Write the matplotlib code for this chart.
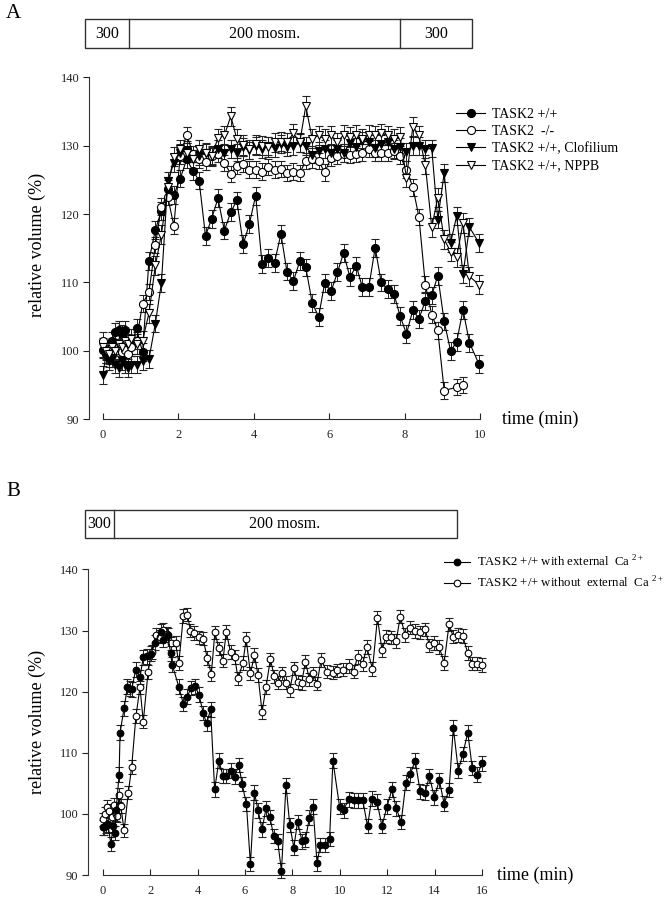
import matplotlib
matplotlib.use("Agg")
import matplotlib.pyplot as plt
from matplotlib.lines import Line2D
from matplotlib.patches import Rectangle

plt.rcParams['font.family'] = ['Liberation Serif', 'DejaVu Serif']
plt.rcParams['mathtext.fontset'] = 'custom'
plt.rcParams['mathtext.rm'] = 'Liberation Serif'

# ---------------- Panel A data ----------------
tA = [0.00, 0.08, 0.17, 0.25, 0.33, 0.42, 0.50, 0.58, 0.67, 0.75, 0.89, 1.05, 1.22, 1.39, 1.55,
      1.72, 1.88, 2.05, 2.22, 2.39, 2.55, 2.72, 2.88, 3.05, 3.22, 3.39, 3.55, 3.72, 3.88, 4.05,
      4.22, 4.38, 4.55, 4.72, 4.88, 5.05, 5.22, 5.38, 5.55, 5.72, 5.88, 6.05, 6.22, 6.38, 6.55,
      6.72, 6.88, 7.05, 7.22, 7.38, 7.55, 7.72, 7.88, 8.05, 8.22, 8.38, 8.55, 8.72, 8.88, 9.05,
      9.22, 9.38, 9.55, 9.72, 9.97]
wt = [100.2, 99.5, 99.0, 101.5, 102.8, 103.0, 102.5, 103.0, 101.2, 100.8, 103.3, 99.8, 113.2, 117.7, 120.5,
      123.7, 122.8, 125.2, 128.0, 126.3, 124.9, 116.8, 119.3, 122.3, 117.6, 120.3, 122.0, 115.6, 118.5, 122.7,
      112.7, 113.6, 112.9, 117.1, 111.6, 110.2, 113.1, 112.2, 107.0, 105.0, 109.9, 108.7, 111.5, 114.3, 110.8,
      112.4, 109.3, 109.3, 115.1, 110.0, 109.0, 108.3, 105.1, 102.5, 106.0, 104.7, 107.3, 108.1, 111.0, 104.3,
      100.0, 101.3, 106.0, 101.2, 98.1]
tA_ko = [0.00, 0.08, 0.17, 0.25, 0.33, 0.42, 0.50, 0.58, 0.67, 0.75, 0.89, 1.05, 1.22, 1.39, 1.55,
         1.72, 1.88, 2.05, 2.22, 2.39, 2.55, 2.72, 2.88, 3.05, 3.22, 3.39, 3.55, 3.72, 3.88, 4.05,
         4.22, 4.38, 4.55, 4.72, 4.88, 5.05, 5.22, 5.38, 5.55, 5.72, 5.88, 6.05, 6.22, 6.38, 6.55,
         6.72, 6.88, 7.05, 7.22, 7.38, 7.55, 7.72, 7.88, 8.05, 8.22, 8.38, 8.55, 8.72, 8.88, 9.05,
         9.38, 9.55]
ko = [101.5, 100.0, 99.5, 100.5, 100.0, 100.5, 99.8, 100.2, 99.5, 100.5, 101.5, 106.9, 108.6, 115.5, 121.1,
      122.5, 118.3, 128.5, 131.6, 128.8, 128.0, 127.6, 128.5, 128.8, 127.5, 125.9, 127.0, 127.3, 126.5, 126.5,
      126.2, 126.9, 126.5, 126.6, 126.0, 126.2, 126.0, 127.8, 128.0, 127.8, 126.1, 128.2, 128.5, 128.8, 128.6,
      128.8, 129.0, 129.5, 129.0, 128.9, 129.0, 129.2, 128.5, 126.5, 123.9, 119.6, 109.7, 105.3, 103.0, 94.2,
      94.7, 95.0]
clof = [96.5, 99.5, 98.5, 99.0, 98.0, 97.5, 98.5, 98.0, 97.5, 98.0, 98.0, 98.5, 98.8, 104.0, 109.9,
        124.8, 127.5, 129.0, 129.4, 128.0, 128.5, 129.0, 128.5, 129.5, 129.0, 129.5, 129.0, 129.8, 129.3, 130.0,
        129.5, 130.0, 129.7, 130.2, 129.8, 130.0, 130.4, 129.9, 128.7, 129.2, 129.5, 129.0, 129.5, 128.9, 130.4,
        129.8, 130.7, 130.5, 129.6, 130.3, 130.5, 129.5, 129.8, 129.1, 129.9, 129.9, 129.5, 129.6, 119.2, 126.0,
        115.8, 119.7, 111.2, 118.1, 115.8]
nppb = [100.5, 100.0, 99.5, 100.5, 100.0, 101.0, 100.5, 101.5, 101.0, 101.8, 101.0, 101.5, 105.5, 112.5, 117.0,
        124.0, 128.4, 129.5, 129.0, 128.0, 129.5, 129.0, 128.5, 131.1, 131.5, 134.3, 131.0, 130.1, 129.5, 130.2,
        130.0, 129.8, 130.5, 130.6, 130.5, 131.8, 130.5, 135.8, 131.0, 131.5, 131.0, 131.5, 130.5, 131.6, 131.3,
        131.6, 131.0, 131.6, 131.5, 131.8, 131.5, 131.0, 131.3, 125.3, 132.8, 131.5, 127.2, 118.1, 122.4, 116.3,
        114.5, 113.7, 118.7, 110.9, 109.7]
err_wt, err_ko, err_clof, err_nppb = 1.3, 1.2, 1.3, 1.4
labels_A = ["TASK2 +/+", "TASK2  -/-", "TASK2 +/+, Clofilium", "TASK2 +/+, NPPB"]

# ---------------- Panel B data ----------------
tB_ca = [0.00, 0.06, 0.12, 0.22, 0.34, 0.45, 0.52, 0.56, 0.69, 0.73, 0.90, 1.04, 1.13, 1.22, 1.39,
         1.57, 1.71, 1.86, 2.02, 2.22, 2.44, 2.55, 2.75, 2.86, 2.93, 3.21, 3.40, 3.56, 3.73, 3.89,
         4.06, 4.24, 4.38, 4.55, 4.72, 4.90, 5.07, 5.22, 5.39, 5.56, 5.74, 5.88, 6.06, 6.23, 6.40,
         6.55, 6.72, 6.89, 7.05, 7.21, 7.38, 7.54, 7.73, 7.89, 8.06, 8.22, 8.41, 8.55, 8.72, 8.87,
         9.04, 9.18, 9.39, 9.57, 9.71, 9.99, 10.16, 10.37, 10.58, 10.75, 10.97, 11.17, 11.35, 11.57, 11.78,
         11.99, 12.20, 12.38, 12.59, 12.79, 12.97, 13.18, 13.39, 13.60, 13.78, 13.99, 14.20, 14.40, 14.61, 14.79,
         15.00, 15.19, 15.40, 15.59, 15.80, 16.00]
with_ca = [97.8, 97.8, 98.1, 98.3, 95.1, 98.1, 96.9, 100.6, 106.4, 113.3, 117.3, 120.8, 120.5, 120.4, 123.6,
           122.4, 125.6, 125.8, 126.2, 128.0, 129.8, 128.5, 129.3, 126.3, 124.4, 120.8, 118.0, 119.2, 120.6, 120.9,
           119.5, 116.5, 114.8, 117.1, 104.0, 108.7, 106.2, 106.2, 107.1, 106.1, 108.0, 104.9, 101.6, 91.8, 103.5,
           100.6, 97.5, 100.9, 99.5, 96.4, 95.5, 90.7, 104.7, 98.2, 94.5, 98.7, 95.5, 95.8, 99.4, 101.2,
           91.9, 94.9, 94.9, 95.9, 108.7, 101.2, 100.6, 102.4, 102.2, 102.2, 102.2, 98.0, 102.5, 102.0, 98.0,
           101.2, 104.0, 100.9, 98.7, 105.1, 106.5, 108.7, 103.7, 103.5, 106.2, 102.7, 105.5, 101.7, 103.9, 114.1,
           107.1, 109.8, 113.3, 107.5, 106.4, 108.3]
tB_no = [0.00, 0.10, 0.17, 0.28, 0.37, 0.48, 0.55, 0.62, 0.69, 0.76, 0.90, 1.08, 1.22, 1.40, 1.57,
         1.71, 1.91, 2.06, 2.23, 2.40, 2.55, 2.72, 2.89, 3.07, 3.21, 3.40, 3.57, 3.70, 3.87, 4.06,
         4.23, 4.41, 4.58, 4.73, 4.90, 5.07, 5.21, 5.39, 5.56, 5.71, 5.91, 6.05, 6.23, 6.40, 6.55,
         6.72, 6.89, 7.07, 7.24, 7.40, 7.57, 7.73, 7.89, 8.06, 8.22, 8.39, 8.55, 8.72, 8.87, 9.04,
         9.21, 9.46, 9.71, 9.88, 10.13, 10.37, 10.58, 10.75, 10.96, 11.14, 11.38, 11.59, 11.78, 11.96, 12.17,
         12.38, 12.55, 12.76, 12.97, 13.18, 13.39, 13.60, 13.78, 13.99, 14.20, 14.40, 14.61, 14.79, 15.00, 15.19,
         15.40, 15.59, 15.80, 16.00]
without_ca = [99.1, 100.0, 101.1, 100.5, 99.5, 101.5, 100.0, 99.7, 103.1, 101.3, 97.3, 103.5, 107.7, 116.0, 120.7,
              115.1, 123.2, 126.5, 129.3, 129.0, 130.1, 129.5, 127.9, 128.0, 124.7, 132.4, 132.6, 130.0, 129.6, 128.9,
              128.7, 125.5, 122.9, 129.7, 127.1, 125.1, 129.8, 126.5, 125.7, 122.2, 124.7, 128.6, 123.0, 126.0, 122.7,
              116.7, 120.8, 125.3, 122.5, 121.5, 123.0, 121.5, 120.2, 123.8, 121.6, 121.4, 124.9, 122.0, 123.0, 121.3,
              125.2, 123.3, 123.1, 123.5, 123.6, 124.2, 123.3, 125.7, 124.5, 127.3, 123.7, 132.1, 126.8, 129.0, 128.9,
              128.3, 132.3, 129.3, 130.5, 129.9, 129.7, 130.2, 127.6, 128.0, 127.3, 124.7, 131.0, 129.0, 129.3, 129.1,
              126.3, 124.6, 124.6, 124.4]
err_with, err_without = 1.2, 1.1
labels_B = ["TASK2 +/+ with external  Ca $^{2+}$", "TASK2 +/+ without  external  Ca $^{2+}$"]

W, H = 671, 899
fig = plt.figure(figsize=(W / 100, H / 100), dpi=100)


def fx(px):
    return px / W


def fy(py):
    return 1 - py / H


def style_axes(ax, xmax, xticks):
    ax.set_ylim(90, 140)
    ax.set_xlim(ax.get_xlim()[0], xmax)
    for s in ['top', 'right']:
        ax.spines[s].set_visible(False)
    ax.spines['left'].set_bounds(90, 140)
    ax.spines['bottom'].set_bounds(0, xmax)
    for s in ['left', 'bottom']:
        ax.spines[s].set_linewidth(0.8)
        ax.spines[s].set_color('#333333')
    ax.set_yticks([90, 100, 110, 120, 130, 140])
    ax.set_xticks(xticks)
    ax.tick_params(axis='y', direction='out', length=4, width=0.8, labelsize=9, pad=3, colors='#222222')
    ax.tick_params(axis='x', direction='in', length=4, width=0.8, labelsize=9, pad=7, colors='#222222')
    ax.patch.set_visible(False)


def series(ax, t, y, e, marker, face, ms):
    ax.errorbar(t, y, yerr=e, fmt='-', color='black', lw=0.8, marker=marker, ms=ms,
                mfc=face, mec='black', mew=0.8, ecolor='#222222', elinewidth=0.7,
                capsize=3, capthick=0.7, clip_on=False, zorder=3)


# ---------------- Panel A ----------------
axA = fig.add_axes([fx(89), fy(419.3), fx(480) - fx(89), fy(77.3) - fy(419.3)])
axA.set_xlim(-0.37, 10)
series(axA, tA, wt, err_wt, 'o', 'black', 5.8)
series(axA, tA_ko, ko, err_ko, 'o', 'white', 5.8)
series(axA, tA, clof, err_clof, 'v', 'black', 5.8)
series(axA, tA, nppb, err_nppb, 'v', 'white', 5.8)
style_axes(axA, 10, [0, 2, 4, 6, 8, 10])

handlesA = [Line2D([], [], color='black', lw=0.8, marker=m, ms=5.8, mfc=f, mec='black', mew=0.8)
            for m, f in [('o', 'black'), ('o', 'white'), ('v', 'black'), ('v', 'white')]]
fig.legend(handlesA, labels_A, loc='upper left', bbox_to_anchor=(fx(456), fy(108)),
           frameon=False, fontsize=10, handlelength=2.1, handletextpad=0.5,
           labelspacing=0.3, borderpad=0, borderaxespad=0)

fig.text(fx(37), fy(245), 'relative volume (%)', rotation=90, ha='center', va='center', fontsize=13)
fig.text(fx(502), fy(419), 'time (min)', ha='left', va='center', fontsize=13)
fig.text(fx(6), fy(13), 'A', ha='left', va='center', fontsize=15)

# box A
fig.add_artist(Rectangle((fx(85), fy(48.3)), fx(472) - fx(85), fy(19) - fy(48.3),
                         transform=fig.transFigure, fill=False, lw=1.0, ec='#333333'))
for xd in [129.3, 400]:
    fig.add_artist(Line2D([fx(xd), fx(xd)], [fy(48.3), fy(19)], transform=fig.transFigure,
                          lw=1.0, color='#333333'))
fig.text(fx(107), fy(34), '300', ha='center', va='center', fontsize=11.5)
fig.text(fx(265), fy(34), '200 mosm.', ha='center', va='center', fontsize=11.5)
fig.text(fx(436), fy(34), '300', ha='center', va='center', fontsize=11.5)

# ---------------- Panel B ----------------
axB = fig.add_axes([fx(88.3), fy(875), fx(482) - fx(88.3), fy(569.5) - fy(875)])
axB.set_xlim(-0.61, 16)
series(axB, tB_no, without_ca, err_without, 'o', 'white', 4.8)
series(axB, tB_ca, with_ca, err_with, 'o', 'black', 4.8)
style_axes(axB, 16, [0, 2, 4, 6, 8, 10, 12, 14, 16])

handlesB = [Line2D([], [], color='black', lw=0.8, marker='o', ms=4.8, mfc=f, mec='black', mew=0.8)
            for f in ['black', 'white']]
fig.legend(handlesB, labels_B, loc='upper left', bbox_to_anchor=(fx(444), fy(554)),
           frameon=False, fontsize=9.2, handlelength=2.0, handletextpad=0.6,
           labelspacing=0.45, borderpad=0, borderaxespad=0)

fig.text(fx(37), fy(722), 'relative volume (%)', rotation=90, ha='center', va='center', fontsize=13)
fig.text(fx(497), fy(875), 'time (min)', ha='left', va='center', fontsize=13)
fig.text(fx(6), fy(492), 'B', ha='left', va='center', fontsize=15)

fig.add_artist(Rectangle((fx(85), fy(538.3)), fx(457) - fx(85), fy(510) - fy(538.3),
                         transform=fig.transFigure, fill=False, lw=1.0, ec='#333333'))
fig.add_artist(Line2D([fx(114.3), fx(114.3)], [fy(538.3), fy(510)], transform=fig.transFigure,
                      lw=1.0, color='#333333'))
fig.text(fx(99.5), fy(524), '300', ha='center', va='center', fontsize=11.5)
fig.text(fx(285), fy(524), '200 mosm.', ha='center', va='center', fontsize=11.5)

fig.savefig('out.png', dpi=100)
